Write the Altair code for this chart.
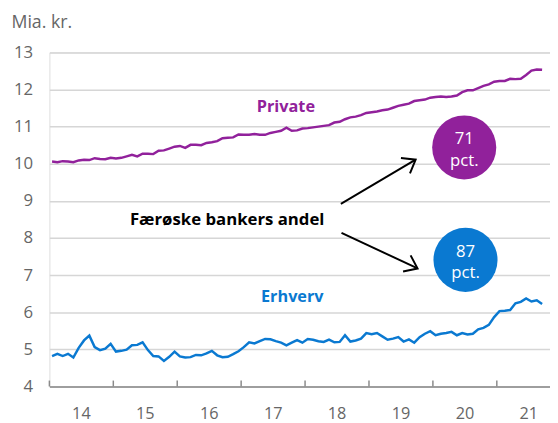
import math
import altair as alt
import pandas as pd

# ---- data ----
year_ticks = [2014, 2015, 2016, 2017, 2018, 2019, 2020, 2021]
y_ticks = [4, 5, 6, 7, 8, 9, 10, 11, 12, 13]

private = [10.06, 10.04, 10.07, 10.06, 10.04, 10.09, 10.11, 10.10, 10.15, 10.13,
           10.12, 10.16, 10.14, 10.16, 10.20, 10.24, 10.20, 10.27, 10.27, 10.26,
           10.35, 10.36, 10.41, 10.46, 10.48, 10.43, 10.51, 10.51, 10.50, 10.56,
           10.58, 10.61, 10.69, 10.70, 10.71, 10.79, 10.78, 10.78, 10.80, 10.78,
           10.78, 10.83, 10.86, 10.89, 10.97, 10.89, 10.90,
           10.95, 10.96, 10.98, 11.00, 11.02, 11.04, 11.11, 11.13, 11.20,
           11.25, 11.27, 11.31, 11.37, 11.39, 11.41, 11.44, 11.46, 11.51, 11.56,
           11.59, 11.62, 11.69, 11.71, 11.73, 11.78, 11.80, 11.81, 11.80, 11.81,
           11.84, 11.93, 11.98, 11.98, 12.04, 12.10, 12.14, 12.21, 12.23, 12.23,
           12.29, 12.28, 12.29, 12.39, 12.51, 12.54, 12.53]

erhverv = [4.82, 4.88, 4.82, 4.88, 4.78, 5.04, 5.24, 5.37, 5.06, 4.98,
           5.02, 5.15, 4.94, 4.96, 4.99, 5.11, 5.12, 5.19, 4.98, 4.82,
           4.81, 4.69, 4.80, 4.94, 4.81, 4.78, 4.79, 4.85, 4.84, 4.89,
           4.96, 4.84, 4.79, 4.80, 4.87, 4.95, 5.06, 5.19, 5.16, 5.22,
           5.28, 5.27, 5.22, 5.18, 5.11, 5.18, 5.25,
           5.18, 5.28, 5.26, 5.22, 5.20, 5.26, 5.19, 5.20, 5.38,
           5.21, 5.24, 5.29, 5.44, 5.41, 5.44, 5.35, 5.26, 5.29, 5.33,
           5.21, 5.27, 5.18, 5.33, 5.42, 5.49, 5.38, 5.42, 5.44, 5.47,
           5.38, 5.44, 5.40, 5.42, 5.54, 5.58, 5.66, 5.87, 6.03, 6.04,
           6.06, 6.24, 6.28, 6.37, 6.29, 6.32, 6.22]

series = ["Private", "Erhverv"]
share_labels = ["71\npct.", "87\npct."]
share_pos_t = [2020.49, 2020.51]
share_pos_v = [10.44, 7.41]
series_label_t = [2017.70, 2017.80]
series_label_v = [11.53, 6.42]
note_text = "Færøske bankers andel"
note_t, note_v = 2015.26, 8.47
arrow_start_t = [2018.56, 2018.57]
arrow_start_v = [8.92, 8.14]
arrow_end_t = [2019.73, 2019.76]
arrow_end_v = [10.11, 7.18]

# ---- styles ----
PURPLE = "#91219b"
BLUE = "#0a79d1"
GREY = "#666666"
FONT = "Open Sans"
W, H = 508, 339
X_DOMAIN = [2014, 2021.832]
Y_DOMAIN = [4, 13]

n = len(private)
t = [2014 + (i + 0.5) / 12 for i in range(n)]
df = pd.DataFrame({"t": t + t, "v": private + erhverv,
                   "s": ["Private"] * n + ["Erhverv"] * n})

xscale = alt.Scale(domain=X_DOMAIN, nice=False, zero=False)
yscale = alt.Scale(domain=Y_DOMAIN, nice=False, zero=False)
cscale = alt.Scale(domain=series, range=[PURPLE, BLUE])

x_axis = alt.Axis(values=year_ticks, labelExpr="slice(toString(datum.value), 2)",
                  labelOffset=32, ticks=False, tickSize=0, grid=False, domain=True,
                  domainColor="#8a8a8a", domainWidth=1.5, labelPadding=19,
                  labelFontSize=16.5, labelColor=GREY, labelFont=FONT, title=None,
                  labelFlush=False, labelOverlap=False)
y_axis = alt.Axis(values=y_ticks, title="Mia. kr.", titleAngle=0, titleAlign="left",
                  titleBaseline="middle", titleX=-39, titleY=-30, titleFontSize=18,
                  titleFontWeight="normal", titleColor=GREY, titleFont=FONT,
                  domain=False, ticks=False, tickSize=0, labelPadding=17,
                  labelFontSize=17, labelColor=GREY, labelFont=FONT,
                  labelOverlap=False, labelFlush=False,
                  grid=True, gridColor="#d6d6d6", gridWidth=1.5)

X = alt.X("t:Q", scale=xscale, axis=x_axis)
Y = alt.Y("v:Q", scale=yscale, axis=y_axis)
C = alt.Color("s:N", scale=cscale, legend=None)

lines = alt.Chart(df).mark_line(strokeWidth=2.5).encode(x=X, y=Y, color=C)

ticks_df = pd.DataFrame({"t": year_ticks})
tick_rules = alt.Chart(ticks_df).mark_rule(color="#8a8a8a", strokeWidth=1.5).encode(
    x=X, y=alt.value(H), y2=alt.value(H - 6),
)

circ_df = pd.DataFrame({"t": share_pos_t, "v": share_pos_v, "s": series,
                        "lab": share_labels})
circles = alt.Chart(circ_df).mark_circle(size=4230, opacity=1).encode(
    x=X, y=Y, color=C,
)
circ_text = alt.Chart(circ_df).mark_text(color="white", font=FONT, fontSize=17,
                                         lineBreak="\n", lineHeight=21.6, dy=-8,
                                         baseline="middle").encode(
    x=X, y=Y, text="lab:N",
)

lab_df = pd.DataFrame({"t": series_label_t, "v": series_label_v, "s": series})
series_text = alt.Chart(lab_df).mark_text(font=FONT, fontSize=16.5, fontWeight="bold",
                                          baseline="middle").encode(
    x=X, y=Y, text="s:N", color=C,
)

note_df = pd.DataFrame({"t": [note_t], "v": [note_v], "lab": [note_text]})
note = alt.Chart(note_df).mark_text(font=FONT, fontSize=17, fontWeight="bold",
                                    color="black", align="left",
                                    baseline="middle").encode(
    x=X, y=Y, text="lab:N",
)

arr_rows = []
head_rows = []
px_per_t = W / (X_DOMAIN[1] - X_DOMAIN[0])
px_per_v = H / (Y_DOMAIN[1] - Y_DOMAIN[0])
for k in range(2):
    arr_rows.append({"id": k, "o": 0, "t": arrow_start_t[k], "v": arrow_start_v[k]})
    arr_rows.append({"id": k, "o": 1, "t": arrow_end_t[k], "v": arrow_end_v[k]})
    dx = (arrow_end_t[k] - arrow_start_t[k]) * px_per_t
    dy = -(arrow_end_v[k] - arrow_start_v[k]) * px_per_v
    ang = math.degrees(math.atan2(dy, dx)) % 360
    head_rows.append({"t": arrow_end_t[k], "v": arrow_end_v[k], "ang": ang})
arr_df = pd.DataFrame(arr_rows)
head_df = pd.DataFrame(head_rows)

arrows = alt.Chart(arr_df).mark_line(color="black", strokeWidth=2).encode(
    x=X, y=Y, detail="id:N", order="o:Q",
)
heads = alt.Chart(head_df).mark_point(shape="M -1 -0.75 L 0 0 L -1 0.75",
                                      filled=False, size=576, strokeWidth=2,
                                      color="black", opacity=1).encode(
    x=X, y=Y, angle=alt.Angle("ang:Q", scale=None),
)

chart = alt.layer(lines, tick_rules, circles, circ_text, series_text, note,
                  arrows, heads).properties(
    width=W, height=H,
    padding={"left": 42, "top": 42, "right": 0, "bottom": 34},
    autosize=alt.AutoSizeParams(type="none"),
    background="white",
).configure_view(stroke=None).configure(font=FONT)

chart.save("out.html", embed_options={"renderer": "svg", "actions": False})
